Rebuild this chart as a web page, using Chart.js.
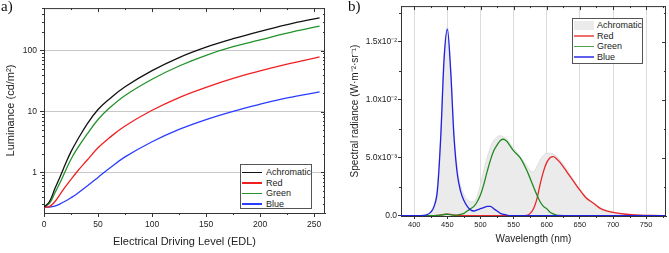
<!DOCTYPE html>
<html>
<head>
<meta charset="utf-8">
<script src="https://cdn.jsdelivr.net/npm/chart.js@4.4.1/dist/chart.umd.min.js"></script>
<style>
  body { margin: 0; background: #fff; }
  #wrap { position: relative; width: 669px; height: 253px; overflow: hidden; font-family: "Liberation Sans", Arial, sans-serif; }
  canvas { position: absolute; top: 0; }
  .tag { position: absolute; top: -2px; font-family: "Liberation Serif", "Times New Roman", serif; font-size: 15px; color: #111; }
  .legend { position: absolute; background: #fff; border: 1px solid #555; font-size: 9px; color: #222; box-sizing: border-box; }
  .legend div { position: relative; height: 10.6px; line-height: 10.6px; white-space: nowrap; }
  .legend span { position: absolute; }
</style>
</head>
<body>
<div id="wrap">
  <canvas id="lumChart" width="335" height="253" style="left:0"></canvas>
  <canvas id="specChart" width="334" height="253" style="left:335px"></canvas>
  <div class="tag" style="left:1px">a)</div>
  <div class="tag" style="left:348px">b)</div>
  <div class="legend" id="legendA" style="left:240px; top:164px; width:72px; height:45px; padding-top:2px"></div>
  <div class="legend" id="legendB" style="left:572px; top:18px; width:71px; height:46px; padding-top:1px"></div>
</div>
<script>
const seriesNames = ['Achromatic', 'Red', 'Green', 'Blue'];

// a) luminance vs electrical driving level
const edl = [0, 5, 10, 15, 20, 25, 30, 40, 50, 60, 75, 100, 125, 150, 175, 200, 225, 255];
const lumAchromatic = [0.27, 0.33, 0.54, 0.86, 1.4, 2.2, 3.2, 6.3, 10.8, 15.8, 25.6, 47, 77, 114, 157, 208, 268, 347];
const lumRed = [0.27, 0.275, 0.33, 0.44, 0.59, 0.77, 1.0, 1.6, 2.55, 3.65, 5.8, 10.5, 17, 25, 35, 46.5, 60, 79];
const lumGreen = [0.27, 0.31, 0.46, 0.69, 1.08, 1.65, 2.35, 4.3, 7.4, 11.2, 18.4, 34, 56, 84, 116, 150, 194, 252];
const lumBlue = [0.27, 0.27, 0.28, 0.305, 0.34, 0.385, 0.44, 0.6, 0.83, 1.15, 1.8, 3.2, 5.1, 7.4, 10.1, 13.2, 16.8, 21];

const edlTicks = [0, 50, 100, 150, 200, 250];
const edlMinor = [25, 75, 125, 175, 225];
const lumTicks = [1, 10, 100];
const lumTickLabels = ['1', '10', '100'];
const lumMinor = [0.3, 0.4, 0.5, 0.6, 0.7, 0.8, 0.9, 2, 3, 4, 5, 6, 7, 8, 9, 20, 30, 40, 50, 60, 70, 80, 90, 200, 300, 400, 500];

// b) spectral radiance
const wavelength = [380, 400, 410, 420, 425, 430, 435, 440, 445, 450, 455, 460, 465, 470, 475, 480, 485, 490, 495, 500,
  505, 510, 515, 520, 525, 530, 535, 540, 545, 550, 560, 570, 575, 580, 585, 590, 595, 600, 605, 610,
  615, 620, 630, 640, 650, 660, 670, 680, 690, 700, 720, 740, 760, 780];
const radAchromatic = [0, 0, 0.00003, 0.00015, 0.0004, 0.001, 0.0026, 0.0072, 0.0139, 0.0163, 0.0129, 0.0073, 0.0041, 0.0026, 0.0018, 0.0014, 0.0012, 0.0012, 0.0017, 0.0027,
  0.0039, 0.005, 0.0059, 0.0065, 0.0068, 0.0069, 0.0068, 0.0066, 0.0062, 0.0058, 0.0051, 0.0043, 0.0039, 0.0038, 0.0042, 0.0048, 0.0052, 0.0054, 0.0054, 0.0053,
  0.0051, 0.0048, 0.004, 0.0031, 0.0023, 0.0016, 0.0011, 0.0007, 0.00045, 0.0003, 0.00013, 0.00006, 0.00002, 0];
const radRed = [0, 0, 0, 0, 0, 0, 0.00002, 0.00006, 0.0001, 0.00013, 0.0001, 0.00005, 0.00002, 0, 0, 0, 0, 0, 0, 0,
  0, 0, 0, 0, 0, 0, 0, 0, 0, 0, 0, 0.00003, 0.0002, 0.0006, 0.0014, 0.0027, 0.0038, 0.0046, 0.005, 0.0051,
  0.0049, 0.0046, 0.0038, 0.003, 0.0022, 0.0015, 0.0011, 0.00065, 0.00042, 0.00028, 0.00012, 0.00005, 0.00002, 0];
const radGreen = [0, 0, 0, 0, 0, 0, 0.00002, 0.00005, 0.0001, 0.00012, 0.00008, 0.00004, 0.00005, 0.0001, 0.0002, 0.0004, 0.0006, 0.0008, 0.0012, 0.0018,
  0.0027, 0.0038, 0.0048, 0.0056, 0.0061, 0.0065, 0.0066, 0.0064, 0.006, 0.0056, 0.005, 0.0039, 0.0032, 0.0025, 0.0018, 0.0012, 0.0008, 0.0006, 0.0003, 0.00015,
  0.00005, 0.00002, 0, 0, 0, 0, 0, 0, 0, 0, 0, 0, 0, 0];
const radBlue = [0, 0, 0, 0.0001, 0.0003, 0.0008, 0.0022, 0.0068, 0.0135, 0.0161, 0.0125, 0.0068, 0.0036, 0.0021, 0.0013, 0.0008, 0.0005, 0.0004, 0.0005, 0.0006,
  0.0007, 0.0008, 0.0008, 0.0006, 0.0004, 0.0002, 0.0001, 0.00004, 0, 0, 0, 0, 0, 0, 0, 0, 0, 0, 0, 0,
  0, 0, 0, 0, 0, 0, 0, 0, 0, 0, 0, 0, 0, 0];

const wlTicks = [400, 450, 500, 550, 600, 650, 700, 750];
const wlMinor = [425, 475, 525, 575, 625, 675, 725, 775];
const radTicks = [0, 0.005, 0.01, 0.015];
const radTickLabels = ['0.0', '5.0x10\u207B\u00B3', '1.0x10\u207B\u00B2', '1.5x10\u207B\u00B2'];
const radMinor = [0.0025, 0.0075, 0.0125, 0.0175];

const colorsA = ['#111111', '#f02020', '#22922a', '#2a3cff'];
const colorsB = ['#ebebeb', '#e8262a', '#1f8a1f', '#2020e0'];
const legendLinesB = ['#ebebeb', '#f07070', '#50a050', '#6060f0'];

const textColor = '#222';
const axisColor = '#333';
Chart.defaults.font.family = '"Liberation Sans", Arial, sans-serif';
Chart.defaults.color = textColor;

// mirror ticks on top/right plus minor ticks all round
const framePlugin = {
  id: 'frame',
  afterDraw(chart, args, opts) {
    const {ctx, chartArea: a, scales} = chart;
    const x = scales.x, y = scales.y;
    ctx.save();
    ctx.strokeStyle = axisColor;
    ctx.lineWidth = 1;
    ctx.beginPath();
    ctx.moveTo(a.left, a.top + 0.5); ctx.lineTo(a.right, a.top + 0.5);
    ctx.moveTo(a.right - 0.5, a.top); ctx.lineTo(a.right - 0.5, a.bottom);
    const xt = (v, len, out) => {
      const p = Math.round(x.getPixelForValue(v)) + 0.5;
      if (out) { ctx.moveTo(p, a.bottom); ctx.lineTo(p, a.bottom + len); }
      ctx.moveTo(p, a.top); ctx.lineTo(p, a.top + len);
    };
    const yt = (v, len, out) => {
      const p = Math.round(y.getPixelForValue(v)) + 0.5;
      if (out) { ctx.moveTo(a.left, p); ctx.lineTo(a.left - len, p); }
      ctx.moveTo(a.right, p); ctx.lineTo(a.right - len, p);
    };
    opts.xMajor.forEach(v => xt(v, 4, false));
    opts.xMinor.forEach(v => xt(v, 2, true));
    opts.yMajor.forEach(v => yt(v, 4, false));
    opts.yMinor.forEach(v => yt(v, 2, true));
    ctx.stroke();
    ctx.restore();
  }
};

const line = (label, data, color, extra) => Object.assign({
  label: label, data: data, borderColor: color, backgroundColor: color,
  borderWidth: 1.3, pointRadius: 0, fill: false, cubicInterpolationMode: 'monotone'
}, extra || {});
const smooth = { cubicInterpolationMode: 'default', tension: 0.4 };

new Chart(document.getElementById('lumChart'), {
  type: 'line',
  data: {
    labels: edl,
    datasets: [
      line(seriesNames[0], lumAchromatic, colorsA[0], smooth),
      line(seriesNames[1], lumRed, colorsA[1], smooth),
      line(seriesNames[2], lumGreen, colorsA[2], smooth),
      line(seriesNames[3], lumBlue, colorsA[3], smooth)
    ]
  },
  options: {
    responsive: false,
    animation: false,
    devicePixelRatio: 1,
    layout: { padding: { top: 5, right: 10, left: 0, bottom: 0 } },
    plugins: {
      legend: { display: false },
      tooltip: { enabled: false },
      frame: { xMajor: edlTicks, xMinor: edlMinor, yMajor: lumTicks, yMinor: lumMinor }
    },
    scales: {
      x: {
        type: 'linear', min: 0, max: 260,
        afterBuildTicks: s => { s.ticks = edlTicks.map(v => ({ value: v })); },
        afterFit: s => { s.height = 40; },
        ticks: { font: { size: 8.5 }, color: textColor, padding: 3, maxRotation: 0 },
        grid: { drawOnChartArea: false, tickLength: 4, tickColor: axisColor },
        border: { color: axisColor },
        title: { display: true, text: 'Electrical Driving Level (EDL)', font: { size: 11 }, color: textColor, padding: { top: 0, bottom: 4 } }
      },
      y: {
        type: 'logarithmic', min: 0.216, max: 500,
        afterBuildTicks: s => { s.ticks = lumTicks.map(v => ({ value: v })); },
        afterFit: s => { s.width = 44; },
        ticks: { font: { size: 8.5 }, color: textColor, padding: 3, callback: v => lumTickLabels[lumTicks.indexOf(v)] },
        grid: { color: '#c8c8c8', tickLength: 4, tickColor: axisColor },
        border: { color: axisColor },
        title: { display: true, text: 'Luminance (cd/m\u00B2)', font: { size: 11 }, color: textColor, padding: { top: 4, bottom: 0 } }
      }
    }
  },
  plugins: [framePlugin]
});

new Chart(document.getElementById('specChart'), {
  type: 'line',
  data: {
    labels: wavelength,
    datasets: [
      line(seriesNames[0], radAchromatic, colorsB[0], { fill: 'origin', borderColor: '#dedede', borderWidth: 1, order: 4 }),
      line(seriesNames[1], radRed, colorsB[1], { order: 3 }),
      line(seriesNames[2], radGreen, colorsB[2], { order: 2 }),
      line(seriesNames[3], radBlue, colorsB[3], { order: 1 })
    ]
  },
  options: {
    responsive: false,
    animation: false,
    devicePixelRatio: 1,
    layout: { padding: { top: 5, right: 3, left: 0, bottom: 0 } },
    plugins: {
      legend: { display: false },
      tooltip: { enabled: false },
      frame: { xMajor: wlTicks, xMinor: wlMinor, yMajor: radTicks, yMinor: radMinor }
    },
    scales: {
      x: {
        type: 'linear', min: 380, max: 780,
        afterBuildTicks: s => { s.ticks = wlTicks.map(v => ({ value: v })); },
        afterFit: s => { s.height = 37; },
        ticks: { font: { size: 7.5 }, color: textColor, padding: 1, maxRotation: 0, autoSkip: false },
        grid: { color: '#dcdcdc', tickLength: 3, tickColor: axisColor },
        border: { color: axisColor },
        title: { display: true, text: 'Wavelength (nm)', font: { size: 10 }, color: textColor, padding: { top: 0, bottom: 8 } }
      },
      y: {
        type: 'linear', min: -0.00003, max: 0.0181,
        afterBuildTicks: s => { s.ticks = radTicks.map(v => ({ value: v })); },
        afterFit: s => { s.width = 66; },
        ticks: { font: { size: 8.5 }, color: textColor, padding: 1, callback: v => radTickLabels[radTicks.indexOf(v)] },
        grid: { drawOnChartArea: false, tickLength: 3, tickColor: axisColor },
        border: { color: axisColor },
        title: { display: true, text: 'Spectral radiance (W\u00B7m\u207B\u00B2\u00B7sr\u207B\u00B9)', font: { size: 10 }, color: textColor, padding: { top: 14, bottom: 0 } }
      }
    }
  },
  plugins: [framePlugin]
});

// legends
function buildLegend(id, colors, swatchFirst, textLeft) {
  const box = document.getElementById(id);
  seriesNames.forEach((name, i) => {
    const row = document.createElement('div');
    row.style.paddingLeft = textLeft + 'px';
    const sw = document.createElement('span');
    sw.style.left = '1px';
    sw.style.width = '20px';
    sw.style.background = colors[i];
    if (swatchFirst && i === 0) {
      sw.style.top = '1px'; sw.style.height = '8.5px';
    } else {
      sw.style.top = '4.6px'; sw.style.height = '1.5px';
    }
    row.appendChild(sw);
    row.appendChild(document.createTextNode(name));
    box.appendChild(row);
  });
}
buildLegend('legendA', colorsA, false, 25);
buildLegend('legendB', legendLinesB, true, 24);
</script>
</body>
</html>
